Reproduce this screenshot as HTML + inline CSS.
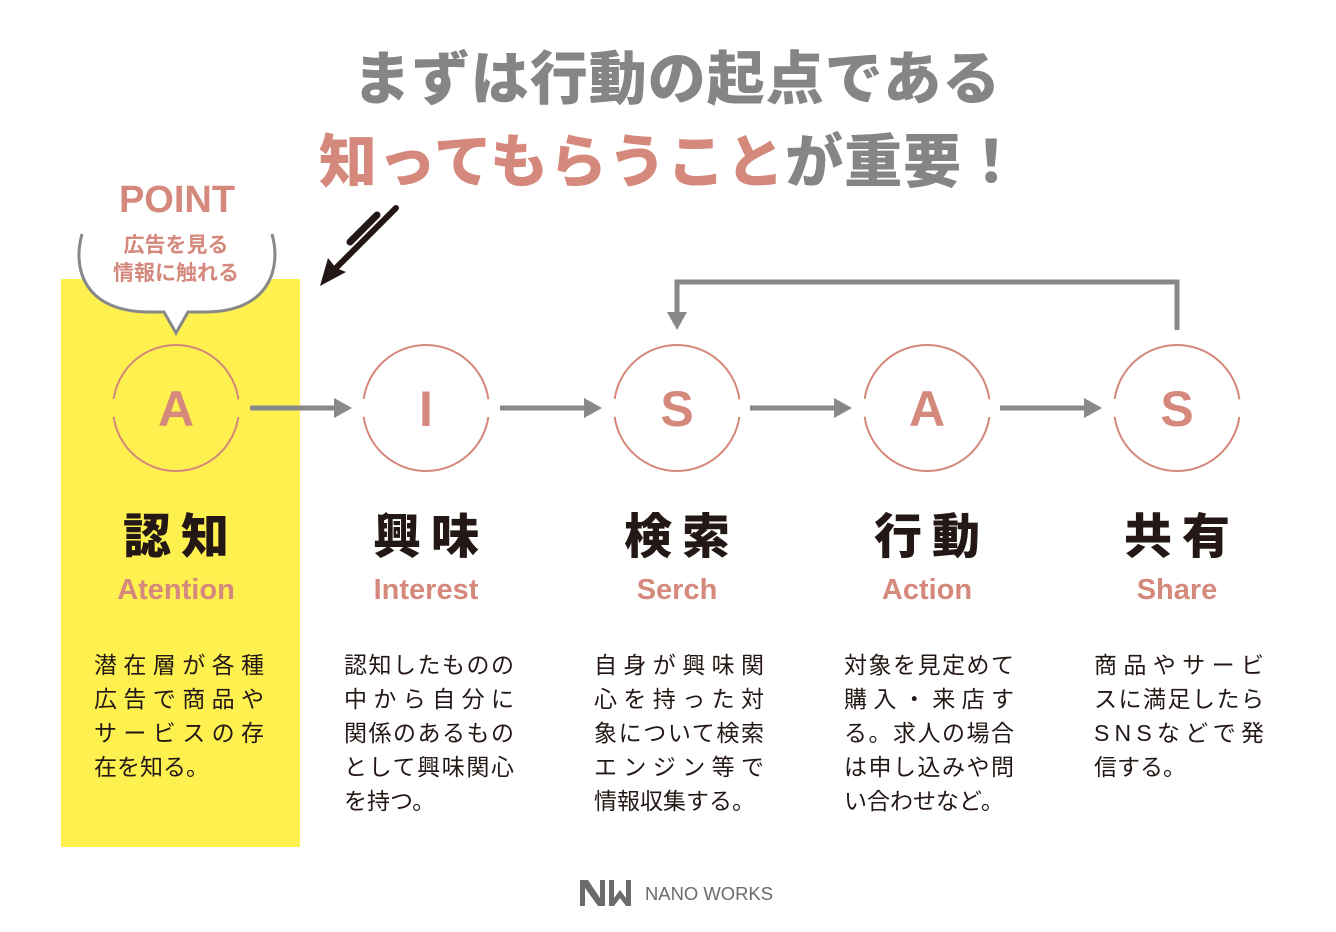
<!DOCTYPE html>
<html><head><meta charset="utf-8"><style>
body{margin:0;background:#fff;}
svg{display:block}
.t{font-family:"Liberation Sans","Noto Sans CJK JP",sans-serif;}
</style></head><body>
<svg width="1336" height="932" viewBox="0 0 1336 932" xmlns="http://www.w3.org/2000/svg">
<rect x="61" y="279" width="239" height="568" fill="#fdf04f"/>
<g class="t" font-weight="900" font-size="58" text-anchor="middle">
<text x="677" y="99" fill="#858585" letter-spacing="1">まずは行動の起点である</text>
<text x="670" y="182" letter-spacing="1"><tspan fill="#d4897c">知ってもらうこと</tspan><tspan fill="#858585">が重要！</tspan></text>
</g>
<text class="t" x="177" y="212" font-size="38" font-weight="700" fill="#d4897c" text-anchor="middle">POINT</text>
<path d="M82,234 C72,270 85,312 150,312 L164,312 L176,333 L188,312 L205,312 C268,312 282,270 272,234" fill="#fff" stroke="#888" stroke-width="3"/>
<g class="t" font-size="21" font-weight="700" fill="#d4897c" text-anchor="middle">
<text x="176" y="252">広告を見る</text><text x="176" y="280">情報に触れる</text></g>
<g stroke="#231815" stroke-linecap="round" fill="none">
<path d="M377,215 L350,242" stroke-width="7"/>
<path d="M396,208 L332,272" stroke-width="6"/>
</g>
<path d="M320,286 L328,258 L336,268 L346,272 Z" fill="#231815"/>
<g fill="none" stroke="#d4877a" stroke-width="2">
<circle cx="176" cy="408" r="63" stroke-dasharray="180 18" stroke-dashoffset="-9"/>
<circle cx="426" cy="408" r="63" stroke-dasharray="180 18" stroke-dashoffset="-9"/>
<circle cx="677" cy="408" r="63" stroke-dasharray="180 18" stroke-dashoffset="-9"/>
<circle cx="927" cy="408" r="63" stroke-dasharray="180 18" stroke-dashoffset="-9"/>
<circle cx="1177" cy="408" r="63" stroke-dasharray="180 18" stroke-dashoffset="-9"/>
</g>
<g class="t" font-size="50" font-weight="700" fill="#d4897c" text-anchor="middle">
<text x="176" y="426">A</text><text x="426" y="426">I</text><text x="677" y="426">S</text><text x="927" y="426">A</text><text x="1177" y="426">S</text></g>
<g stroke="#888" stroke-width="5" fill="none">
<path d="M250,408 H336 M500,408 H586 M750,408 H836 M1000,408 H1086"/>
<path d="M1177,330 V282 H677 V314"/>
</g>
<g fill="#888">
<path d="M352,408 L334,398 L334,418Z"/><path d="M602,408 L584,398 L584,418Z"/>
<path d="M852,408 L834,398 L834,418Z"/><path d="M1102,408 L1084,398 L1084,418Z"/>
<path d="M677,330 L667,312 L687,312Z"/>
</g>
<g class="t" font-size="48" font-weight="900" fill="#231815" text-anchor="middle" letter-spacing="10">
<text x="181" y="553">認知</text><text x="431" y="553">興味</text><text x="682" y="553">検索</text><text x="932" y="553">行動</text><text x="1182" y="553">共有</text></g>
<g class="t" font-size="29" font-weight="700" fill="#d4897c" text-anchor="middle">
<text x="176" y="599">Atention</text><text x="426" y="599">Interest</text><text x="677" y="599">Serch</text><text x="927" y="599">Action</text><text x="1177" y="599">Share</text></g>
<g class="t" font-size="23" fill="#231815">
<text x="94" y="673" textLength="170">潜在層が各種</text><text x="94" y="707" textLength="170">広告で商品や</text><text x="94" y="741" textLength="170">サービスの存</text><text x="94" y="775">在を知る。</text>
<text x="344" y="673" textLength="170">認知したものの</text><text x="344" y="707" textLength="170">中から自分に</text><text x="344" y="741" textLength="170">関係のあるもの</text><text x="344" y="775" textLength="170">として興味関心</text><text x="344" y="809">を持つ。</text>
<text x="594" y="673" textLength="170">自身が興味関</text><text x="594" y="707" textLength="170">心を持った対</text><text x="594" y="741" textLength="170">象について検索</text><text x="594" y="775" textLength="170">エンジン等で</text><text x="594" y="809">情報収集する。</text>
<text x="844" y="673" textLength="170">対象を見定めて</text><text x="844" y="707" textLength="170">購入・来店す</text><text x="844" y="741" textLength="170">る。求人の場合</text><text x="844" y="775" textLength="170">は申し込みや問</text><text x="844" y="809">い合わせなど。</text>
<text x="1094" y="673" textLength="170">商品やサービ</text><text x="1094" y="707" textLength="170">スに満足したら</text><text x="1094" y="741" textLength="170">SNSなどで発</text><text x="1094" y="775">信する。</text>
</g>
<g fill="#6b6b6b">
<path d="M580,880 h8 l12,18 v-18 h5 v26 h-7 l-13,-18 v18 h-5Z"/>
<path d="M609,880 h5 v18 l6,-8 l6,8 v-18 h5 v26 h-5 l-6,-8 l-6,8 h-5Z"/>
</g>
<text class="t" x="645" y="900" font-size="18" fill="#6b6b6b" textLength="128" lengthAdjust="spacingAndGlyphs">NANO WORKS</text>
</svg>
</body></html>
